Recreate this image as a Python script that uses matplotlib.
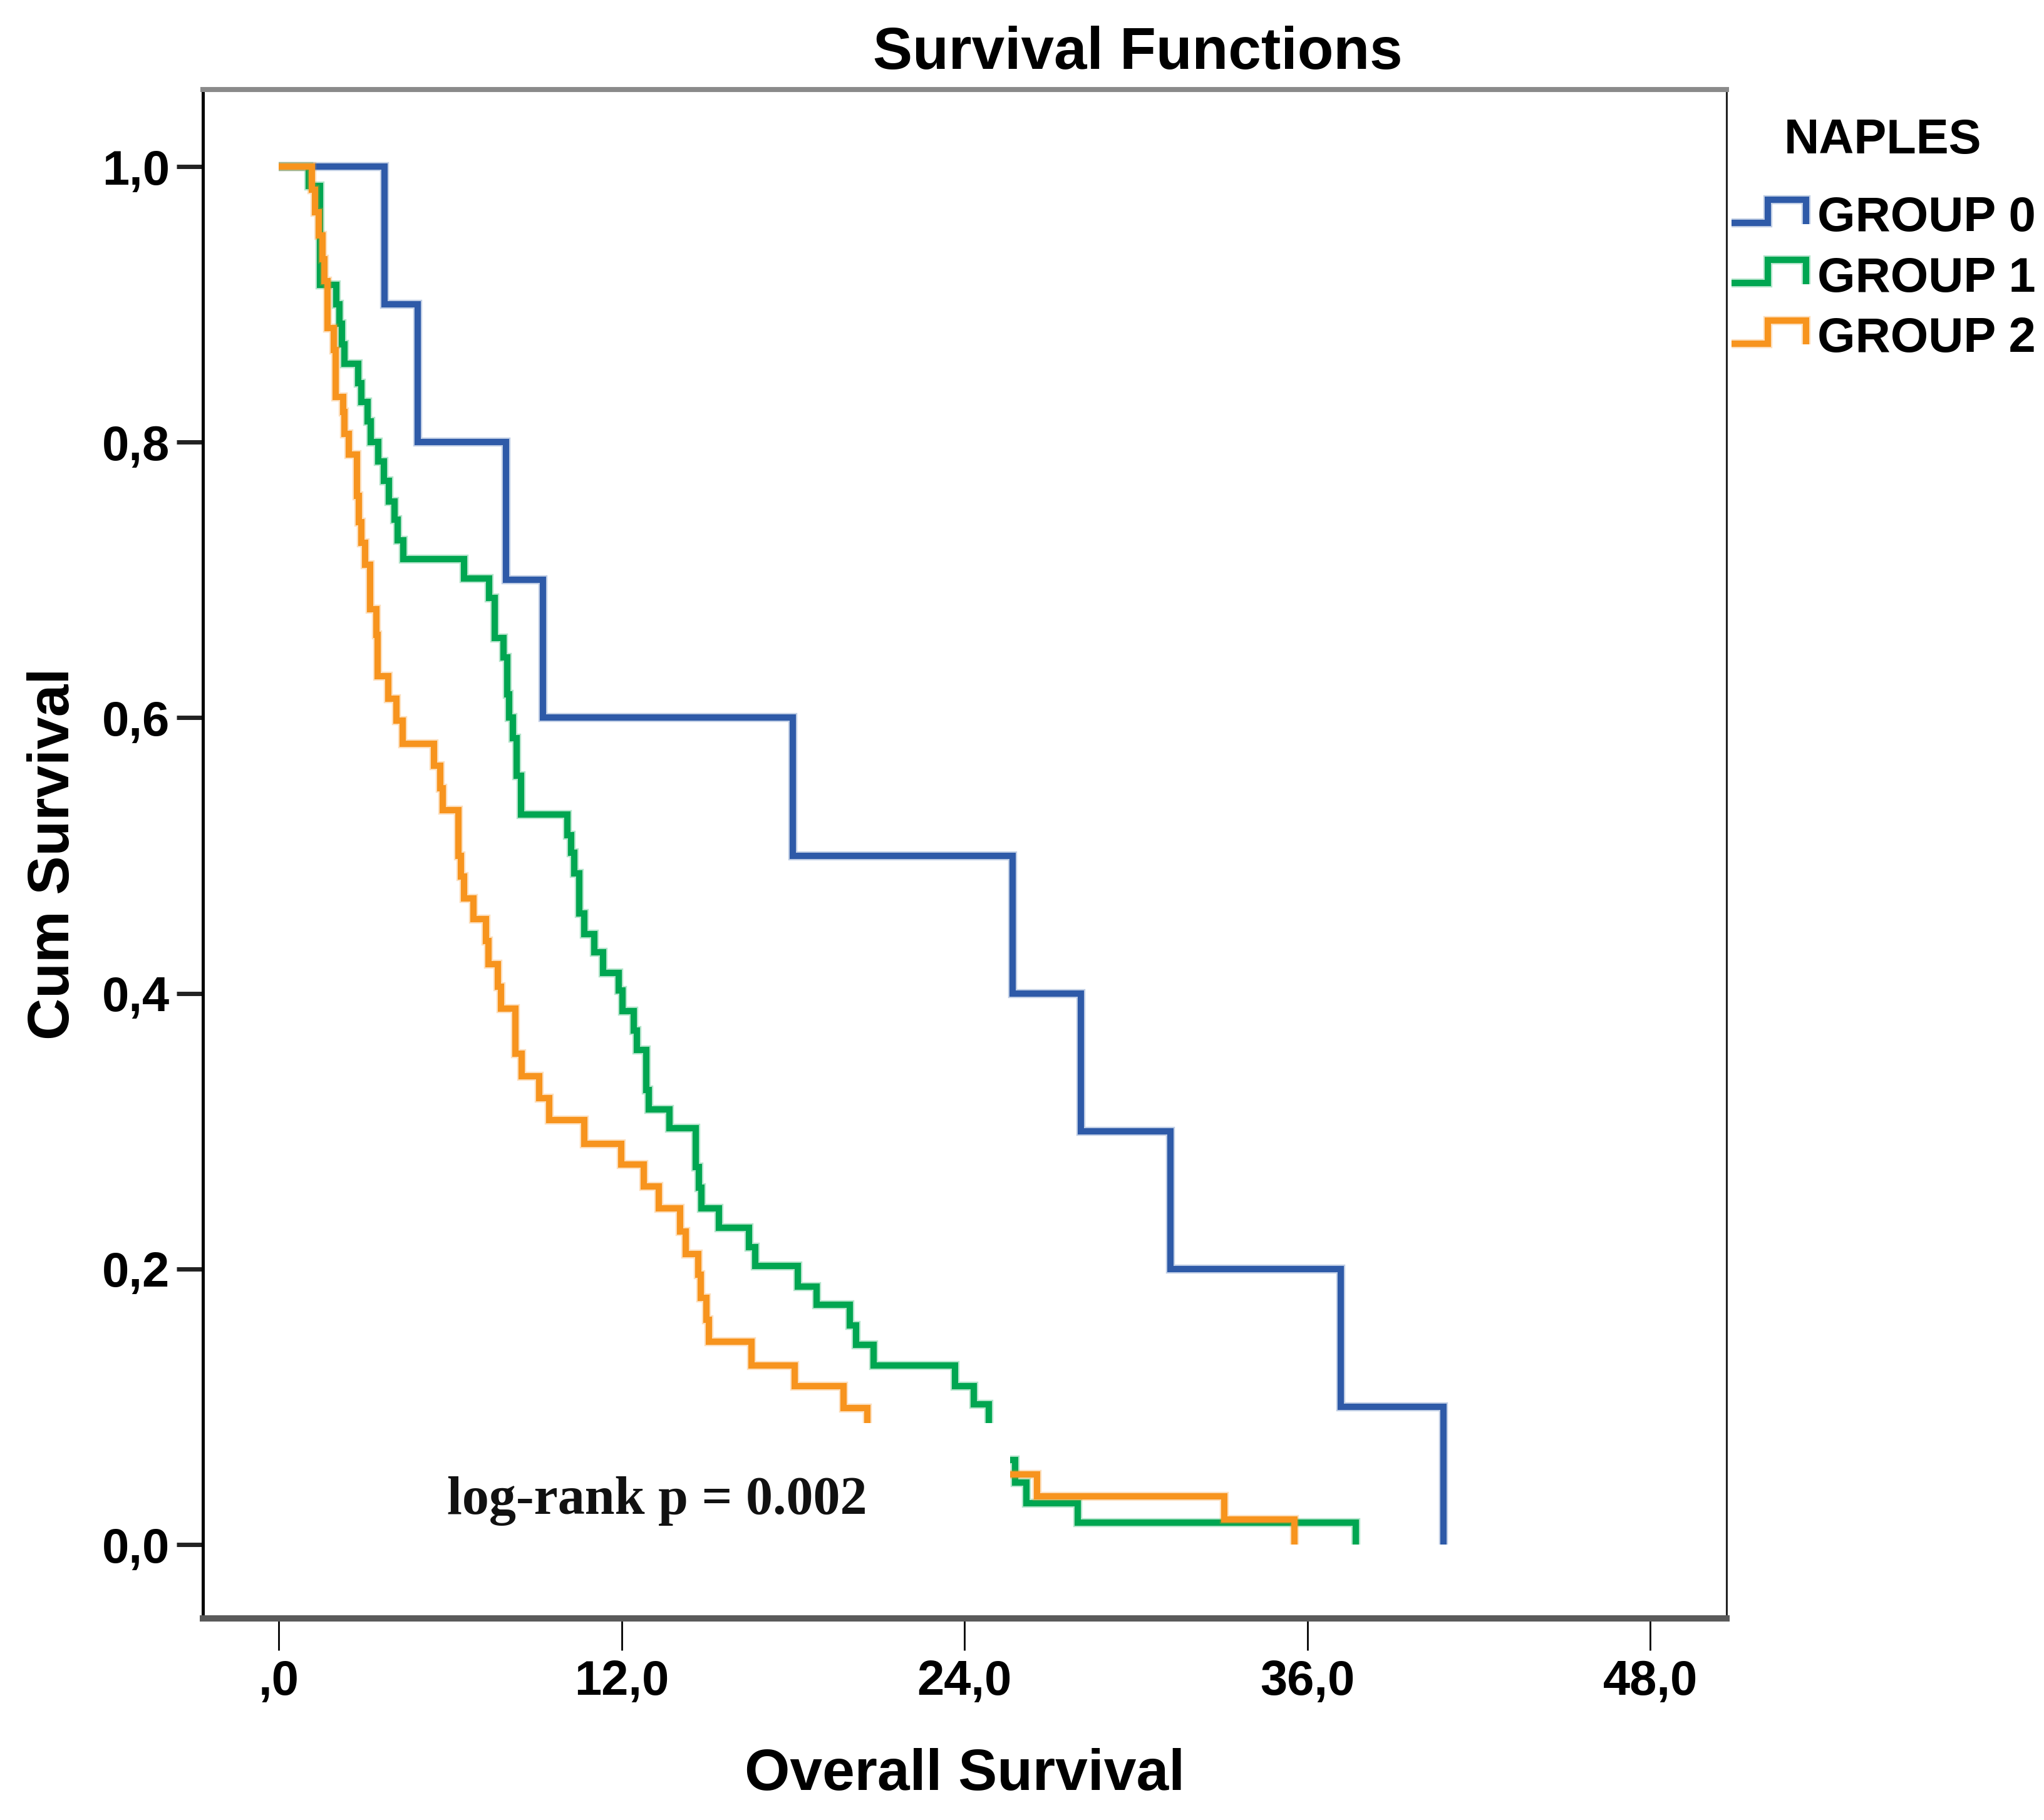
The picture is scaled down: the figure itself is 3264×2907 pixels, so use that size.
import matplotlib
matplotlib.use("Agg")
import matplotlib.pyplot as plt
from matplotlib.legend_handler import HandlerBase
from matplotlib.lines import Line2D
from matplotlib.patches import Rectangle
import matplotlib.patheffects as pe

# ---------------- data ----------------
group_names = ["GROUP 0", "GROUP 1", "GROUP 2"]
legend_title = "NAPLES"

g0_times = [3.69, 4.86, 7.95, 9.25, 17.99, 25.69, 28.06, 31.20, 37.17, 40.77]
g0_surv = [0.90, 0.80, 0.70, 0.60, 0.50, 0.40, 0.30, 0.20, 0.10, 0.00]

g1_times = [1.05, 1.44, 2.01, 2.12, 2.21, 2.29, 2.77, 2.88,
            3.10, 3.21, 3.47, 3.68, 3.84, 4.04, 4.15, 4.35, 6.47, 7.35, 7.55,
            7.86, 7.99, 8.06, 8.20, 8.31, 8.48,
            10.09, 10.22, 10.33, 10.51, 10.69, 11.04, 11.35, 11.90, 12.02,
            12.43, 12.53, 12.85, 12.95, 13.68, 14.60, 14.71, 14.78, 15.41,
            16.45, 16.68, 18.16, 18.83, 19.98, 20.20, 20.82, 23.67, 24.32,
            24.84, 25.77, 26.17, 27.96, 37.70]
g1_surv = [0.986, 0.914, 0.900, 0.886, 0.871, 0.857, 0.843, 0.829,
           0.815, 0.800, 0.786, 0.772, 0.757, 0.744, 0.729, 0.715, 0.701, 0.687, 0.658,
           0.644, 0.617, 0.600, 0.585, 0.558, 0.530,
           0.515, 0.502, 0.487, 0.458, 0.443, 0.430, 0.415, 0.402, 0.387,
           0.373, 0.359, 0.330, 0.316, 0.302, 0.274, 0.259, 0.244, 0.230,
           0.216, 0.202, 0.187, 0.174, 0.159, 0.145, 0.130, 0.115, 0.102,
           0.0615, 0.045, 0.030, 0.016, 0.000]

g2_times = [1.16, 1.27, 1.40, 1.52, 1.60, 1.70, 1.93, 1.98,
            2.25, 2.30, 2.44, 2.74, 2.79, 2.88, 3.02, 3.20,
            3.40, 3.45, 3.83, 4.12, 4.34, 5.43, 5.64, 5.73,
            6.29, 6.37, 6.49, 6.80, 7.25, 7.33, 7.66, 7.77, 8.28,
            8.50, 9.12, 9.45, 10.69, 11.99, 12.78, 13.30, 14.05, 14.24,
            14.68, 14.77, 14.97, 15.05, 16.54, 18.06, 19.77, 20.60,
            26.53, 33.10, 35.55]
g2_surv = [0.983, 0.967, 0.950, 0.933, 0.917, 0.883, 0.867, 0.833,
           0.822, 0.806, 0.791, 0.761, 0.742, 0.727, 0.711, 0.679,
           0.660, 0.630, 0.614, 0.598, 0.581, 0.565, 0.549, 0.533,
           0.500, 0.485, 0.469, 0.454, 0.438, 0.421, 0.405, 0.389, 0.356,
           0.340, 0.324, 0.308, 0.291, 0.276, 0.260, 0.244, 0.227, 0.211,
           0.196, 0.179, 0.163, 0.147, 0.130, 0.115, 0.099, 0.051,
           0.035, 0.018, 0.000]

x_ticks = [0, 12, 24, 36, 48]
x_tick_labels = [",0", "12,0", "24,0", "36,0", "48,0"]
y_ticks = [0.0, 0.2, 0.4, 0.6, 0.8, 1.0]
y_tick_labels = ["0,0", "0,2", "0,4", "0,6", "0,8", "1,0"]

annotation = "log-rank p = 0.002"

# ---------------- styling ----------------
plt.rcParams["font.family"] = ["Liberation Sans", "DejaVu Sans"]
colors = ["#2E5AA8", "#00A651", "#F7941E"]
LW = 3.6

fig = plt.figure(figsize=(16.32, 14.535), dpi=200)
ax = fig.add_axes([0.09914, 0.11077, 0.74553, 0.83987])

series = [(g0_times, g0_surv), (g1_times, g1_surv), (g2_times, g2_surv)]
for i, ((t, s), c) in enumerate(zip(series, colors)):
    ax.step([0.0] + t, [1.0] + s, where="post", color=c, lw=LW,
            solid_capstyle="butt", solid_joinstyle="miter", zorder=2 + i,
            path_effects=[pe.Stroke(linewidth=LW + 1.6, foreground=c, alpha=0.3),
                          pe.Normal()])

# white annotation box that masks part of the curves (as in the reference)
ax.add_patch(Rectangle((5.0, -0.01), 20.6, 0.098, facecolor="white",
                       edgecolor="none", zorder=6))
ax.text(5.885, 0.0223, annotation, family=["Liberation Serif", "DejaVu Serif"],
        fontsize=31, fontweight="bold", ha="left", va="baseline", zorder=7,
        color="#111111")

ax.set_xlim(-2.67, 50.67)
ax.set_ylim(-0.0536, 1.0557)
ax.set_xticks(x_ticks, x_tick_labels)
ax.set_yticks(y_ticks, y_tick_labels)
ax.tick_params(axis="y", direction="out", length=15, width=2.5, color="#222222",
               pad=4, labelsize=28)
ax.tick_params(axis="x", direction="out", length=18.4, width=1.0, color="black",
               pad=5, labelsize=28)
for lab in ax.get_xticklabels() + ax.get_yticklabels():
    lab.set_fontweight("bold")

ax.spines["left"].set_color("black"); ax.spines["left"].set_linewidth(1.8)
ax.spines["right"].set_color("#222222"); ax.spines["right"].set_linewidth(1.1)
ax.spines["top"].set_color("#8a8a8a"); ax.spines["top"].set_linewidth(2.9)
ax.spines["bottom"].set_color("#5a5a5a"); ax.spines["bottom"].set_linewidth(3.6)

ax.set_xlabel("Overall Survival", fontsize=33.5, fontweight="bold", labelpad=25)
ax.set_ylabel("Cum Survival", fontsize=33.5, fontweight="bold", labelpad=12)
fig.text(0.5567, 0.9622, "Survival Functions", ha="center", va="baseline",
         fontsize=34, fontweight="bold")


class StepHandler(HandlerBase):
    def create_artists(self, legend, orig_handle, xdescent, ydescent, width,
                       height, fontsize, trans):
        x0 = -xdescent
        y0 = -ydescent
        lo = y0 + 0.24 * height
        hi = y0 + 0.92 * height
        xs = [x0, x0 + 0.49 * width, x0 + 0.49 * width, x0 + width, x0 + width]
        ys = [lo, lo, hi, hi, lo - 0.03 * height]
        c = orig_handle.get_color()
        ln = Line2D(xs, ys, color=c, lw=LW, solid_capstyle="butt",
                    solid_joinstyle="miter",
                    path_effects=[pe.Stroke(linewidth=LW + 1.6, foreground=c, alpha=0.3),
                                  pe.Normal()])
        ln.set_transform(trans)
        return [ln]


handles = [Line2D([], [], color=c, lw=LW) for c in colors]
leg = fig.legend(handles, group_names, loc="upper left",
                 bbox_to_anchor=(0.8471, 0.8926), frameon=False,
                 prop={"size": 28, "weight": "bold"},
                 handler_map={Line2D: StepHandler()},
                 handlelength=1.53, handleheight=0.7, handletextpad=0.23,
                 labelspacing=0.3, borderpad=0, borderaxespad=0)
fig.text(0.9211, 0.9157, legend_title, ha="center", va="baseline",
         fontsize=28, fontweight="bold")

fig.savefig("out.png", dpi=200)
